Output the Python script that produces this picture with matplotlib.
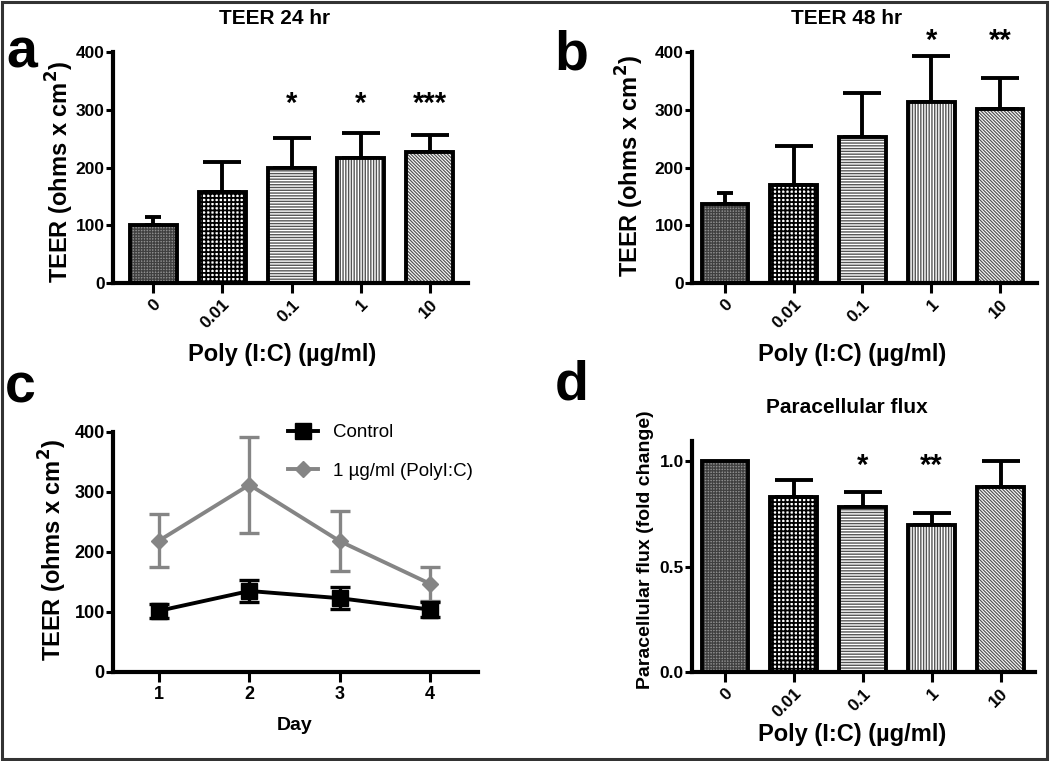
import matplotlib
matplotlib.use('Agg')
import matplotlib.pyplot as plt
import numpy as np
from matplotlib.patches import Rectangle
from matplotlib.lines import Line2D

plt.rcParams['font.family'] = ['Liberation Sans', 'DejaVu Sans']

# ---------------- data ----------------
doses = ['0', '0.01', '0.1', '1', '10']
teer24 = [101, 157, 199, 217, 227]
teer24_err = [13, 53, 52, 43, 29]
teer24_sig = ['', '', '*', '*', '***']
teer48 = [137, 170, 253, 313, 301]
teer48_err = [19, 67, 76, 80, 54]
teer48_sig = ['', '', '', '*', '**']
flux = [1.0, 0.83, 0.78, 0.697, 0.877]
flux_err = [0.0, 0.08, 0.073, 0.056, 0.123]
flux_sig = ['', '', '*', '**', '']
days = [1, 2, 3, 4]
ctrl = [102, 135, 123, 104]
ctrl_err = [12, 18, 18, 12]
polyic = [219, 312, 218, 147]
polyic_err = [44, 80, 50, 28]

# ---------------- styles ----------------
W, H = 1050, 761
BAR_STYLES = [
    dict(face='#8f8f8f', hatch='++++++', hc='#404040', hlw=0.9),
    dict(face='white', hatch='++++', hc='black', hlw=1.3),
    dict(face='white', hatch='------', hc='#555555', hlw=1.0),
    dict(face='white', hatch='||||||', hc='#555555', hlw=1.0),
    dict(face='white', hatch='\\' * 10, hc='#555555', hlw=0.9),
]
CAPS = [6, 14, 14, 14, 14]
SP_LW = 3.0
BAR_LW = 2.8


def P(x, y):
    return x / W, 1 - y / H


def add_axes(left, right, top, bottom):
    return fig.add_axes([left / W, 1 - bottom / H, (right - left) / W, (bottom - top) / H])


def style(ax, ylab_size=12.5, xlab_size=12.5):
    for s in ['top', 'right']:
        ax.spines[s].set_visible(False)
    for s in ['left', 'bottom']:
        ax.spines[s].set_linewidth(SP_LW)
        ax.spines[s].set_capstyle('projecting')
    ax.tick_params(axis='y', width=2.2, length=5, labelsize=ylab_size, pad=1)
    ax.tick_params(axis='x', width=2.2, length=7, labelsize=xlab_size, pad=3)
    for lab in ax.get_xticklabels() + ax.get_yticklabels():
        lab.set_fontweight('bold')


def bar_panel(ax, vals, errs, sig, star_y, xlim, ylim, yticks, yfmt):
    x = np.arange(len(doses))
    bw = 0.68
    for i, st in enumerate(BAR_STYLES):
        with plt.rc_context({'hatch.linewidth': st['hlw']}):
            bars = ax.bar(x[i], vals[i], width=bw, color=st['face'], edgecolor=st['hc'],
                          hatch=st['hatch'], linewidth=0, zorder=2)
        for p in bars:
            if hasattr(p, 'set_hatch_linewidth'):
                p.set_hatch_linewidth(st['hlw'])
    ax.bar(x, vals, width=bw, fill=False, edgecolor='black', linewidth=BAR_LW, zorder=3)
    for i in range(len(x)):
        if errs[i] > 0:
            ax.errorbar(x[i], vals[i], yerr=[[0], [errs[i]]], fmt='none', ecolor='black',
                        elinewidth=BAR_LW, capsize=CAPS[i], capthick=BAR_LW, zorder=1)
        if sig[i]:
            ax.text(x[i], star_y, sig[i], ha='center', va='baseline', fontsize=21,
                    fontweight='bold', clip_on=False)
    ax.set_xlim(*xlim)
    ax.set_ylim(*ylim)
    ax.set_yticks(yticks)
    ax.set_yticklabels([yfmt.format(v) for v in yticks])
    ax.set_xticks(x)
    ax.set_xticklabels(doses, rotation=45, ha='right', va='top', rotation_mode='anchor')
    style(ax)


fig = plt.figure(figsize=(W / 100, H / 100), dpi=100)

# ---- panel a ----
axa = add_axes(113, 468, 52, 283)
bar_panel(axa, teer24, teer24_err, teer24_sig, 297, (-0.58, 4.55), (0, 400),
          [0, 100, 200, 300, 400], '{:.0f}')
# ---- panel b ----
axb = add_axes(692, 1037, 52, 283)
bar_panel(axb, teer48, teer48_err, teer48_sig, 405, (-0.48, 4.54), (0, 400),
          [0, 100, 200, 300, 400], '{:.0f}')
# ---- panel d ----
axd = add_axes(692, 1035, 441, 672)
bar_panel(axd, flux, flux_err, flux_sig, 0.94, (-0.478, 4.5), (0, 1.095),
          [0.0, 0.5, 1.0], '{:.1f}')

# ---- panel c ----
axc = add_axes(113, 478, 432, 672)
axc.errorbar(days, polyic, yerr=polyic_err, color='#858585', marker='D', ms=8.5, lw=2.8,
             elinewidth=2.4, capsize=7, capthick=2.4, zorder=2)
axc.errorbar(days, ctrl, yerr=ctrl_err, color='black', marker='s', ms=11, lw=2.8,
             elinewidth=2.4, capsize=7, capthick=2.4, zorder=3)
axc.set_xlim(0.49, 4.53)
axc.set_ylim(0, 400)
axc.set_xticks(days)
axc.set_yticks([0, 100, 200, 300, 400])
style(axc, 13, 13)
handles = [Line2D([], [], color='black', marker='s', ms=11, lw=2.8),
           Line2D([], [], color='#858585', marker='D', ms=8.5, lw=2.8)]
fig.legend(handles, ['Control', '1 µg/ml (PolyI:C)'], loc='upper left',
           bbox_to_anchor=P(288, 424), frameon=False, fontsize=13.5,
           handlelength=1.6, handletextpad=0.8, labelspacing=1.15,
           borderpad=0, borderaxespad=0)

# ---- texts ----
bold = dict(fontweight='bold', ha='center', va='center')
fig.text(*P(275, 18), 'TEER 24 hr', fontsize=15, **bold)
fig.text(*P(847, 18), 'TEER 48 hr', fontsize=15, **bold)
fig.text(*P(847, 407), 'Paracellular flux', fontsize=15, **bold)

xl = 'Poly (I:C) (µg/ml)'
fig.text(*P(282, 355), xl, fontsize=17, **bold)
fig.text(*P(852, 355), xl, fontsize=17, **bold)
fig.text(*P(852, 735), xl, fontsize=17, **bold)
fig.text(*P(295, 725), 'Day', fontsize=14, **bold)

yl = 'TEER (ohms x cm$^\\mathbf{2}$)'
fig.text(*P(60, 172), yl, fontsize=17, rotation=90, **bold)
fig.text(*P(630, 166), yl, fontsize=17, rotation=90, **bold)
fig.text(*P(53, 550), yl, fontsize=17, rotation=90, **bold)
fig.text(*P(645, 550), 'Paracellular flux (fold change)', fontsize=14, rotation=90, **bold)

lett = dict(fontweight='bold', ha='center', va='baseline', fontsize=40)
fig.text(*P(22, 67), 'a', **lett)
fig.text(*P(571, 70), 'b', **lett)
fig.text(*P(20, 402), 'c', **lett)
fig.text(*P(572, 400), 'd', **lett)

# outer frame
fig.add_artist(Rectangle(P(1.5, 759), (1046.5 - 1.5) / W, (759 - 1.5) / H,
                         transform=fig.transFigure, fill=False, lw=2.2,
                         edgecolor='#333333'))

fig.savefig('out.png', dpi=100)
